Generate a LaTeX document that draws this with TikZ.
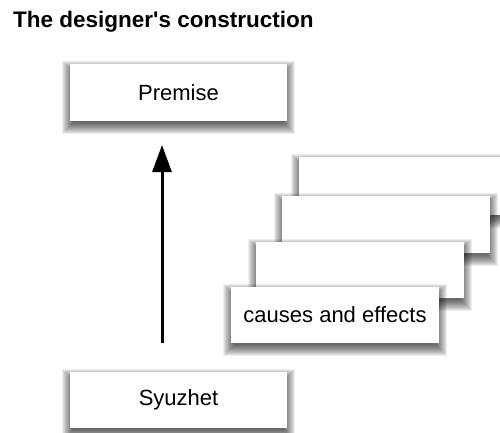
\documentclass[tikz,border=0pt]{standalone}
\usepackage{fontspec}
\setmainfont{Liberation Sans}
\newfontfamily\plainfont{Liberation Sans}
\usetikzlibrary{arrows.meta}
\newcommand\cardshadow[4]{% center x, center y, width, height
  \foreach \k in {0,...,11}{%
    \fill[black, opacity=0.07]
      ({#1-#3/2+3-\k},{#2-#4/2+8-\k}) rectangle ({#1+#3/2-3+\k},{#2+#4/2+2+\k});
  }%
}
\begin{document}
\begin{tikzpicture}[x=1pt,y=-1pt,
  card/.style={fill=white, draw=none, inner sep=0pt, minimum width=217pt,
    font=\fontsize{22}{26}\selectfont},
  stackcard/.style={card, minimum width=208pt},
  arrowline/.style={line width=3pt, -{Triangle[width=19pt,length=27pt]}}
]
\useasboundingbox (0,0) rectangle (500,432);
\node[anchor=base west, inner sep=0pt, font=\plainfont\fontsize{22.5}{26}\selectfont\bfseries] (title) at (13,27) {The designer's construction};
\cardshadow{178.5}{92.5}{217}{57}
\node[card, minimum height=57pt] (premise) at (178.5,92.5) {Premise};
\cardshadow{178.5}{400}{217}{56}
\node[card, minimum height=56pt] (syuzhet) at (178.5,400) {Syuzhet};
\cardshadow{403}{186}{208}{58}
\node[stackcard, minimum height=58pt] (c4) at (403,186) {};
\cardshadow{386}{224.5}{208}{57}
\node[stackcard, minimum height=57pt] (c3) at (386,224.5) {};
\cardshadow{360}{270}{208}{56}
\node[stackcard, minimum height=56pt] (c2) at (360,270) {};
\cardshadow{335}{315}{208}{56}
\node[stackcard, minimum height=56pt] (c1) at (335,315) {causes and effects};
\coordinate (as) at (162,343);
\coordinate (ae) at (162,145);
\draw[arrowline] (as) -- (ae);
\end{tikzpicture}
\end{document}
